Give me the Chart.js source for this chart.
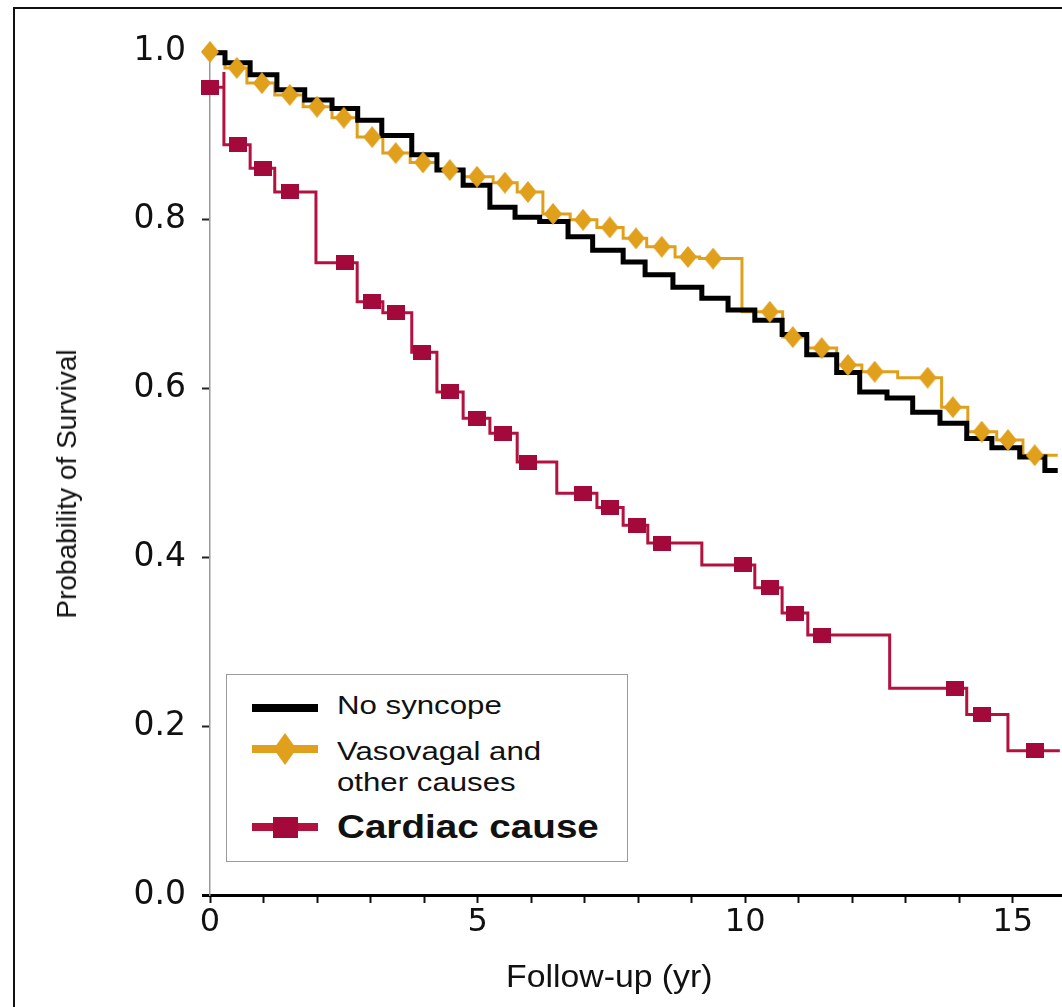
<!DOCTYPE html>
<html>
<head>
<meta charset="utf-8">
<title>Probability of Survival by cause of syncope</title>
<script src="https://cdn.jsdelivr.net/npm/chart.js@4.4.1/dist/chart.umd.min.js"></script>
<style>
  body { margin: 0; background: #fff; }
  #wrap { position: relative; width: 1062px; height: 1007px; overflow: hidden; font-family: "Liberation Sans", Arial, sans-serif; color: #111; }
  #frame { position: absolute; left: 13px; top: 7px; width: 1200px; height: 1200px; border-left: 2px solid #111; border-top: 2px solid #111; }
  #chartBox { position: absolute; left: 0; top: 0; width: 1062px; height: 1007px; }
  .txt { position: absolute; white-space: nowrap; line-height: 1; transform-origin: 0 0; }
  #legend { position: absolute; left: 226px; top: 674px; width: 400px; height: 186px; border: 1px solid #9a9a9a; background: #fff; }
  #legend svg { position: absolute; left: -1px; top: -1px; }
  #yTitle { position: absolute; left: 67px; top: 484px; font-size: 28px; white-space: nowrap; line-height: 1; transform: translate(-50%, -50%) rotate(-90deg); }
</style>
</head>
<body>
<div id="wrap">
  <div id="frame"></div>
  <div id="chartBox"><canvas id="kmChart"></canvas></div>
  <div id="yTitle">Probability of Survival</div>
  <div class="txt" style="left:506px; top:961px; font-size:31px; transform:scaleX(1.09);">Follow-up (yr)</div>
  <div id="legend">
    <svg width="402" height="188">
      <rect x="26" y="30" width="66" height="8" fill="#000"/>
      <rect x="26" y="71" width="66" height="8" fill="#e0a01c"/>
      <polygon points="59,59 70.5,75 59,91 47.5,75" fill="#e0a01c"/>
      <rect x="26" y="149" width="66" height="8" fill="#b3123f"/>
      <rect x="47" y="143" width="25" height="21" fill="#a3093a"/>
    </svg>
    <div class="txt" style="left:110px; top:17px; font-size:26px; transform:scaleX(1.2);">No syncope</div>
    <div class="txt" style="left:110px; top:63px; font-size:26px; transform:scaleX(1.2);">Vasovagal and</div>
    <div class="txt" style="left:110px; top:94px; font-size:26px; transform:scaleX(1.2);">other causes</div>
    <div class="txt" style="left:110px; top:135px; font-size:33px; font-weight:bold; transform:scaleX(1.17);">Cardiac cause</div>
  </div>
</div>
<script>
const GOLD = '#e0a01c';
const CRIMSON = '#b3123f';
const CRIMSON_MARK = '#a3093a';

// follow-up in years, survival probability (step starts)
const noSyncopeTime = [0, 0.28, 0.75, 1.25, 1.77, 2.28, 2.76, 3.21, 3.77, 4.24, 4.73, 5.23, 5.70, 6.16, 6.69, 7.15, 7.72, 8.13, 8.65, 9.19, 9.68, 10.18, 10.69, 11.15, 11.71, 12.14, 12.65, 13.13, 13.64, 14.14, 14.61, 15.13, 15.60, 15.84];
const noSyncopeSurv = [0.998, 0.986, 0.972, 0.954, 0.942, 0.932, 0.918, 0.900, 0.877, 0.859, 0.841, 0.815, 0.803, 0.798, 0.780, 0.764, 0.750, 0.735, 0.720, 0.707, 0.693, 0.681, 0.664, 0.640, 0.619, 0.596, 0.589, 0.572, 0.559, 0.541, 0.530, 0.519, 0.503, 0.503];

const vasoTime = [0, 0.28, 0.69, 1.21, 1.74, 2.28, 2.75, 3.23, 3.74, 4.24, 4.73, 5.29, 5.74, 6.22, 6.73, 7.23, 7.72, 8.16, 8.69, 9.15, 9.94, 10.70, 11.17, 11.71, 12.18, 12.85, 13.67, 14.16, 14.70, 15.19, 15.84];
const vasoSurv = [0.999, 0.980, 0.962, 0.948, 0.934, 0.921, 0.898, 0.879, 0.868, 0.859, 0.851, 0.844, 0.833, 0.807, 0.800, 0.791, 0.778, 0.768, 0.756, 0.754, 0.691, 0.661, 0.648, 0.628, 0.620, 0.613, 0.578, 0.549, 0.539, 0.521, 0.521];
const vasoMarkTime = [0, 0.50, 0.97, 1.49, 2.00, 2.50, 3.03, 3.47, 3.98, 4.48, 4.99, 5.51, 5.94, 6.41, 6.97, 7.47, 7.96, 8.44, 8.93, 9.40, 10.46, 10.89, 11.43, 11.92, 12.42, 13.41, 13.88, 14.42, 14.91, 15.41];
const vasoMarkSurv = [0.999, 0.980, 0.962, 0.948, 0.934, 0.921, 0.898, 0.879, 0.868, 0.859, 0.851, 0.844, 0.833, 0.807, 0.800, 0.791, 0.778, 0.768, 0.756, 0.754, 0.691, 0.661, 0.648, 0.628, 0.620, 0.613, 0.578, 0.549, 0.539, 0.521];

const cardiacTime = [0, 0.26, 0.26, 0.75, 1.21, 1.98, 2.75, 3.23, 3.77, 4.24, 4.73, 5.23, 5.74, 6.48, 7.23, 7.72, 8.18, 9.19, 10.18, 10.69, 11.17, 12.70, 14.14, 14.91, 15.88];
const cardiacSurv = [0.957, 0.975, 0.889, 0.861, 0.833, 0.749, 0.703, 0.690, 0.643, 0.596, 0.565, 0.547, 0.513, 0.476, 0.459, 0.438, 0.417, 0.391, 0.364, 0.334, 0.308, 0.245, 0.214, 0.171, 0.171];
const cardiacMarkTime = [0, 0.52, 0.99, 1.49, 2.52, 3.03, 3.47, 3.96, 4.48, 4.99, 5.47, 5.94, 6.97, 7.47, 7.98, 8.44, 9.96, 10.46, 10.93, 11.43, 13.92, 14.42, 15.41];
const cardiacMarkSurv = [0.957, 0.889, 0.861, 0.833, 0.749, 0.703, 0.690, 0.643, 0.596, 0.565, 0.547, 0.513, 0.476, 0.459, 0.438, 0.417, 0.391, 0.364, 0.334, 0.308, 0.245, 0.214, 0.171];

const xLabelled = [0, 5, 10, 15];
const yTickLabels = ['0.0', '0.2', '0.4', '0.6', '0.8', '1.0'];

function pts(xs, ys) {
  return xs.map((x, i) => ({ x: x, y: ys[i] }));
}

// little canvases used as point styles
function markCanvas(w, h, draw) {
  const c = document.createElement('canvas');
  c.width = w; c.height = h;
  draw(c.getContext('2d'), w, h);
  return c;
}
const diamondMark = markCanvas(18, 22, (g, w, h) => {
  g.fillStyle = GOLD;
  g.beginPath();
  g.moveTo(w / 2, 0); g.lineTo(w, h / 2); g.lineTo(w / 2, h); g.lineTo(0, h / 2);
  g.closePath();
  g.fill();
});
const squareMark = markCanvas(18, 15, (g, w, h) => {
  g.fillStyle = CRIMSON_MARK;
  g.fillRect(0, 0, w, h);
});

const stepLine = { stepped: true, pointRadius: 0, fill: false, clip: false, borderJoinStyle: 'miter', borderCapStyle: 'butt' };

new Chart(document.getElementById('kmChart'), {
  type: 'line',
  data: {
    datasets: [
      { label: 'Cardiac cause (censored)', data: pts(cardiacMarkTime, cardiacMarkSurv), showLine: false, pointStyle: squareMark, pointRadius: 9, clip: false, order: 0 },
      { label: 'Cardiac cause', data: pts(cardiacTime, cardiacSurv), borderColor: CRIMSON, borderWidth: 3, ...stepLine, order: 1 },
      { label: 'Vasovagal (censored)', data: pts(vasoMarkTime, vasoMarkSurv), showLine: false, pointStyle: diamondMark, pointRadius: 10, clip: false, order: 2 },
      { label: 'No syncope', data: pts(noSyncopeTime, noSyncopeSurv), borderColor: '#000', borderWidth: 5, ...stepLine, order: 3 },
      { label: 'Vasovagal and other causes', data: pts(vasoTime, vasoSurv), borderColor: GOLD, borderWidth: 3, ...stepLine, order: 4 }
    ]
  },
  options: {
    responsive: true,
    maintainAspectRatio: false,
    animation: false,
    layout: { autoPadding: false, padding: { top: 51, right: 0, bottom: 0, left: 0 } },
    plugins: { legend: { display: false }, tooltip: { enabled: false } },
    scales: {
      x: {
        type: 'linear', min: 0, max: 15.92,
        afterFit: s => { s.height = 112; },
        border: { color: '#000', width: 3 },
        grid: { drawOnChartArea: false, tickLength: 8, tickWidth: 2, tickColor: '#111' },
        ticks: {
          stepSize: 1, includeBounds: false, autoSkip: false, maxRotation: 0, padding: 0,
          color: '#111', font: { family: 'DejaVu Sans', size: 32 },
          callback: v => xLabelled.includes(v) ? String(v) : ''
        }
      },
      y: {
        min: 0, max: 1,
        afterFit: s => { s.width = 210; },
        border: { color: '#999', width: 1.5 },
        grid: {
          drawOnChartArea: false, tickLength: 8,
          tickWidth: c => (c.tick && c.tick.value === 0) ? 3 : 2,
          tickColor: c => (c.tick && c.tick.value === 0) ? '#000' : '#222'
        },
        ticks: {
          stepSize: 0.2, padding: 16,
          color: '#111', font: { family: 'DejaVu Sans', size: 33 },
          callback: (v, i) => yTickLabels[i]
        }
      }
    }
  }
});
</script>
</body>
</html>
